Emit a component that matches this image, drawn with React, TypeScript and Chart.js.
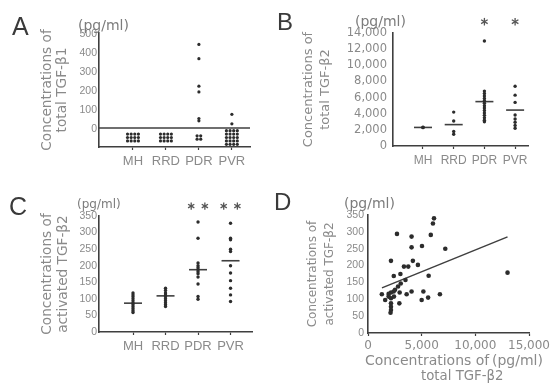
import React, { useEffect, useRef, useState } from "react";
import { Chart, registerables } from "chart.js";

Chart.register(...registerables);

// ---------- data ----------
const categories = ["MH", "RRD", "PDR", "PVR"];

// Panel A: total TGF-β1 (pg/ml)
const aTickValues = [0, 100, 200, 300, 400, 500];
const aMH: number[] = [];
const aRRD: number[] = [];
const aPDR = [440, 365, 220, 190, 50, 38];
const aPVR = [72, 22];
const aUndetectedCounts = [12, 12, 4, 20];
const aUndetectedColumns = [4, 4, 2, 4];
const aDetectionLimit = 0;

// Panel B: total TGF-β2 (pg/ml)
const bTickValues = [0, 2000, 4000, 6000, 8000, 10000, 12000, 14000];
const bMH = [2300, 2280, 2320];
const bRRD = [4200, 3100, 1800, 1450];
const bPDR = [13000, 6800, 6500, 6200, 5900, 5600, 5300, 5000, 4700, 4400, 4100, 3800, 3500, 3200, 3000];
const bPVR = [7400, 6300, 5400, 3850, 3350, 2950, 2550, 2200];
const bMeans = [2300, 2650, 5500, 4450];
const bSignificance = ["", "", "*", "*"];
const bStarLevel = 15400;

// Panel C: activated TGF-β2 (pg/ml)
const cTickValues = [0, 50, 100, 150, 200, 250, 300, 350];
const cMH = [118, 112, 106, 100, 94, 88, 82, 76, 70, 64, 59];
const cRRD = [132, 125, 118, 112, 106, 100, 94, 88, 82, 77];
const cPDR = [332, 283, 208, 200, 194, 188, 182, 176, 166, 145, 107, 99];
const cPVR = [328, 283, 278, 250, 243, 200, 178, 155, 132, 112, 92];
const cMeans = [87, 109, 188, 215];
const cSignificance = ["", "", "**", "**"];
const cStarLevel = 380;

// Panel D: total vs activated TGF-β2
const dTickValuesX = [0, 5000, 10000, 15000];
const dTickValuesY = [0, 50, 100, 150, 200, 250, 300, 350];
const dTotalTGFb2 = [6150, 6050, 2700, 5850, 4060, 4060, 5030, 7200, 2140, 4180, 4650, 3350, 3750, 3020, 2400, 5650, 3490, 3050, 2800, 2950, 2390, 2140, 1920, 1290, 4060, 5160, 3600, 6700, 1600, 1920, 2140, 2420, 2140, 2140, 2140, 2920, 5000, 5600, 13000, 2520, 2100];
const dActivatedTGFb2 = [340, 325, 294, 291, 286, 254, 258, 250, 214, 214, 202, 197, 197, 175, 169, 170, 157, 147, 138, 120, 123, 120, 116, 115, 123, 123, 115, 115, 98, 108, 103, 108, 88, 78, 68, 88, 98, 105, 179, 128, 60];
const dFitX = [1300, 13000];
const dFitY = [134, 285];

// ---------- styling ----------
const TXT = "#8a8a8a";
const AX = "#3f3f3f";
const DOT = "#2c2c2c";
const LIB = "'Liberation Sans', Arial, sans-serif";
const DJV = "'DejaVu Sans', sans-serif";

const A_XMIN = -1.03;
const A_XMAX = 3.55;

type P = { x: number; y: number };

function groupPoints(groups: number[][]): P[] {
  return groups.flatMap((g, i) => g.map((y) => ({ x: i, y })));
}
function meanPoints(meansArr: number[]): P[] {
  return meansArr.map((y, i) => ({ x: i, y }));
}
function starPoints(marks: string[], level: number, spread: number): P[] {
  const out: P[] = [];
  marks.forEach((m, i) => {
    const n = m.length;
    for (let k = 0; k < n; k++) out.push({ x: i + (k - (n - 1) / 2) * spread, y: level });
  });
  return out;
}
function undetectedGrid(counts: number[], cols: number[], center: number, step: number, xStep: number): P[] {
  const out: P[] = [];
  counts.forEach((n, cat) => {
    const c = cols[cat];
    const rows = Math.ceil(n / c);
    for (let i = 0; i < n; i++) {
      const col = i % c;
      const row = Math.floor(i / c);
      out.push({ x: cat + (col - (c - 1) / 2) * xStep, y: center + ((rows - 1) / 2 - row) * step });
    }
  });
  return out;
}

// significance asterisks, placed through the chart's own scales
function starPlugin(marks: string[], level: number, spread: number, size: number) {
  return {
    id: "significanceStars",
    afterDraw(chart: any) {
      const { ctx, scales } = chart;
      const xs = scales.x;
      const ys = scales.y;
      starPoints(marks, level, spread).forEach((p) => {
        const px = xs.getPixelForValue(p.x);
        const py = ys.getPixelForValue(p.y);
        ctx.save();
        ctx.strokeStyle = "#555555";
        ctx.lineWidth = 1.3;
        for (let k = 0; k < 3; k++) {
          const a = Math.PI / 2 + (k * Math.PI) / 3;
          ctx.beginPath();
          ctx.moveTo(px - Math.cos(a) * size, py - Math.sin(a) * size);
          ctx.lineTo(px + Math.cos(a) * size, py + Math.sin(a) * size);
          ctx.stroke();
        }
        ctx.restore();
      });
    },
  };
}

const fmt = (v: number) => Number(v).toLocaleString("en-US");

function yAxis(o: any) {
  return {
    type: "linear",
    position: "left",
    min: o.min,
    max: o.max,
    afterBuildTicks: (s: any) => {
      s.ticks = o.ticks.map((v: number) => ({ value: v }));
    },
    afterFit: (s: any) => {
      s.width = o.width;
    },
    grid: { drawOnChartArea: false, drawTicks: false },
    border: { display: true, color: AX, width: 1.6 },
    ticks: {
      display: o.showTicks !== false,
      autoSkip: false,
      padding: o.pad,
      color: TXT,
      font: o.font,
      callback: (v: any) => fmt(v),
    },
    title: { display: true, text: o.title, color: TXT, font: o.titleFont, padding: 0 },
  };
}

function catAxis(o: any) {
  return {
    type: "linear",
    position: "bottom",
    min: o.min,
    max: o.max,
    afterBuildTicks: (s: any) => {
      s.ticks = categories.map((_, i) => ({ value: i }));
    },
    afterFit: (s: any) => {
      s.height = o.height;
    },
    grid: { drawOnChartArea: false, drawTicks: true, tickLength: 3, tickColor: AX, tickWidth: 1.2 },
    border: { display: true, color: AX, width: 1.6 },
    ticks: {
      autoSkip: false,
      maxRotation: 0,
      minRotation: 0,
      padding: o.pad,
      color: TXT,
      font: o.font,
      callback: (_v: any, i: number) => categories[i],
    },
  };
}

function baseOptions(padding: any, scales: any) {
  return {
    responsive: false,
    animation: false,
    events: [],
    layout: { padding },
    plugins: { legend: { display: false }, tooltip: { enabled: false }, title: { display: false } },
    scales,
  };
}

const dots = (data: P[], r = 1.7) => ({
  data,
  pointRadius: r,
  backgroundColor: DOT,
  borderColor: DOT,
  pointBorderWidth: 0,
});
const means = (data: P[]) => ({
  data,
  pointStyle: "line",
  pointRadius: 9,
  borderColor: AX,
  backgroundColor: AX,
  pointBorderWidth: 1.6,
});

function configA(): any {
  return {
    type: "scatter",
    data: {
      datasets: [
        dots(groupPoints([aMH, aRRD, aPDR, aPVR]).concat(undetectedGrid(aUndetectedCounts, aUndetectedColumns, -50, 18, 0.11)), 1.6),
        {
          data: [
            { x: A_XMIN, y: aDetectionLimit },
            { x: A_XMAX, y: aDetectionLimit },
          ],
          showLine: true,
          pointRadius: 0,
          borderColor: AX,
          borderWidth: 1.6,
        },
      ],
    },
    options: baseOptions(
      { left: 40, right: 26, top: 33, bottom: 0 },
      {
        x: catAxis({ min: A_XMIN, max: A_XMAX, height: 43, pad: 4, font: { family: LIB, size: 13 } }),
        y: yAxis({
          min: -100,
          max: 500,
          ticks: aTickValues,
          width: 59,
          pad: 2,
          showTicks: false,
          font: { family: LIB, size: 10.5 },
          title: ["Concentrations of", "total TGF-β1"],
          titleFont: { family: DJV, size: 13.7, lineHeight: 15 / 13.7 },
        }),
      }
    ),
  };
}

function configB(): any {
  return {
    type: "scatter",
    data: {
      datasets: [dots(groupPoints([bMH, bRRD, bPDR, bPVR])), means(meanPoints(bMeans))],
    },
    plugins: [starPlugin(bSignificance, bStarLevel, 0.25, 3.8)],
    options: baseOptions(
      { left: 24, right: 25, top: 33, bottom: 0 },
      {
        x: catAxis({ min: -0.977, max: 3.42, height: 44, pad: 4, font: { family: LIB, size: 12 } }),
        y: yAxis({
          min: 0,
          max: 14000,
          ticks: bTickValues,
          width: 93,
          pad: 6,
          font: { family: DJV, size: 11.5 },
          title: ["Concentrations of", "total TGF-β2"],
          titleFont: { family: DJV, size: 13, lineHeight: 17 / 13 },
        }),
      }
    ),
  };
}

function configC(): any {
  return {
    type: "scatter",
    data: {
      datasets: [dots(groupPoints([cMH, cRRD, cPDR, cPVR])), means(meanPoints(cMeans))],
    },
    plugins: [starPlugin(cSignificance, cStarLevel, 0.42, 3.6)],
    options: baseOptions(
      { left: 39, right: 24, top: 26, bottom: 0 },
      {
        x: catAxis({ min: -1.046, max: 3.66, height: 51, pad: 4, font: { family: LIB, size: 13 } }),
        y: yAxis({
          min: 0,
          max: 350,
          ticks: cTickValues,
          width: 60,
          pad: 2,
          font: { family: LIB, size: 10.5 },
          title: ["Concentrations of", "activated TGF-β2"],
          titleFont: { family: DJV, size: 13.7, lineHeight: 16 / 13.7 },
        }),
      }
    ),
  };
}

function configD(): any {
  const pts = dTotalTGFb2.map((x, i) => ({ x, y: dActivatedTGFb2[i] }));
  const fit = dFitX.map((x, i) => ({ x, y: dFitY[i] }));
  return {
    type: "scatter",
    data: {
      datasets: [
        dots(pts, 2.3),
        { data: fit, showLine: true, pointRadius: 0, borderColor: AX, borderWidth: 1.5 },
      ],
    },
    options: baseOptions(
      { left: 28, right: 23, top: 25, bottom: 0 },
      {
        x: {
          type: "linear",
          position: "bottom",
          min: 0,
          max: 15000,
          afterBuildTicks: (s: any) => {
            s.ticks = dTickValuesX.map((v) => ({ value: v }));
          },
          afterFit: (s: any) => {
            s.height = 50;
          },
          grid: { drawOnChartArea: false, drawTicks: true, tickLength: 3, tickColor: AX, tickWidth: 1.2 },
          border: { display: true, color: AX, width: 1.6 },
          ticks: {
            autoSkip: false,
            maxRotation: 0,
            minRotation: 0,
            padding: 3,
            color: TXT,
            font: { family: DJV, size: 12 },
            callback: (v: any) => fmt(v),
          },
        },
        y: yAxis({
          min: 0,
          max: 350,
          ticks: dTickValuesY,
          width: 64,
          pad: 4,
          font: { family: LIB, size: 10.5 },
          title: ["Concentrations of", "activated TGF-β2"],
          titleFont: { family: DJV, size: 12, lineHeight: 17 / 12 },
        }),
      }
    ),
  };
}

function textStyle(left: number, top: number, size: number, family: string, color: string): React.CSSProperties {
  return {
    position: "absolute",
    left,
    top,
    fontSize: size,
    lineHeight: `${size}px`,
    fontFamily: family,
    color,
    whiteSpace: "nowrap",
    margin: 0,
    pointerEvents: "none",
  };
}

type TickLabel = { text: string; right: number; y: number };

export default function App() {
  const refA = useRef<HTMLCanvasElement>(null);
  const refB = useRef<HTMLCanvasElement>(null);
  const refC = useRef<HTMLCanvasElement>(null);
  const refD = useRef<HTMLCanvasElement>(null);
  const [aLabels, setALabels] = useState<TickLabel[]>([]);

  useEffect(() => {
    const charts = [
      new Chart(refA.current as HTMLCanvasElement, configA()),
      new Chart(refB.current as HTMLCanvasElement, configB()),
      new Chart(refC.current as HTMLCanvasElement, configC()),
      new Chart(refD.current as HTMLCanvasElement, configD()),
    ];
    // panel A tick labels, positioned from the chart's own y scale
    const chartA: any = charts[0];
    const ys = chartA.scales.y;
    const right = chartA.chartArea.left - 2;
    setALabels(aTickValues.map((v) => ({ text: fmt(v), right, y: ys.getPixelForValue(v) })));
    return () => charts.forEach((c) => c.destroy());
  }, []);

  const canvasStyle = (left: number, top: number): React.CSSProperties => ({
    position: "absolute",
    left,
    top,
    display: "block",
  });

  return (
    <div
      style={{
        position: "fixed",
        left: 0,
        top: 0,
        width: 553,
        height: 383,
        background: "#ffffff",
        overflow: "hidden",
      }}
    >
      <canvas ref={refA} width={276} height={190} style={canvasStyle(0, 0)} />
      <canvas ref={refB} width={277} height={190} style={canvasStyle(276, 0)} />
      <canvas ref={refC} width={276} height={193} style={canvasStyle(0, 190)} />
      <canvas ref={refD} width={277} height={193} style={canvasStyle(276, 190)} />

      {aLabels.map((t) => (
        <div
          key={t.text}
          style={{
            position: "absolute",
            right: 553 - t.right,
            top: t.y - 6,
            fontSize: 10.5,
            lineHeight: "12px",
            fontFamily: LIB,
            color: TXT,
            whiteSpace: "nowrap",
            textAlign: "right",
            pointerEvents: "none",
          }}
        >
          {t.text}
        </div>
      ))}

      <div style={textStyle(12, 14, 25, LIB, "#3a3a3a")}>A</div>
      <div style={textStyle(277, 10, 24, LIB, "#3a3a3a")}>B</div>
      <div style={textStyle(9, 194, 25, LIB, "#3a3a3a")}>C</div>
      <div style={textStyle(274, 190, 24, LIB, "#3a3a3a")}>D</div>

      <div style={textStyle(78, 17.6, 14, DJV, "#7c7c7c")}>(pg/ml)</div>
      <div style={textStyle(355, 13.6, 14, DJV, "#7c7c7c")}>(pg/ml)</div>
      <div style={textStyle(77, 197.6, 12, DJV, "#7c7c7c")}>(pg/ml)</div>
      <div style={textStyle(344, 195.6, 14, DJV, "#7c7c7c")}>(pg/ml)</div>

      <div style={textStyle(365, 353, 14, DJV, TXT)}>Concentrations of</div>
      <div style={textStyle(492, 353, 14, DJV, TXT)}>(pg/ml)</div>
      <div style={textStyle(421, 369, 13.3, DJV, TXT)}>total TGF-β2</div>
    </div>
  );
}
